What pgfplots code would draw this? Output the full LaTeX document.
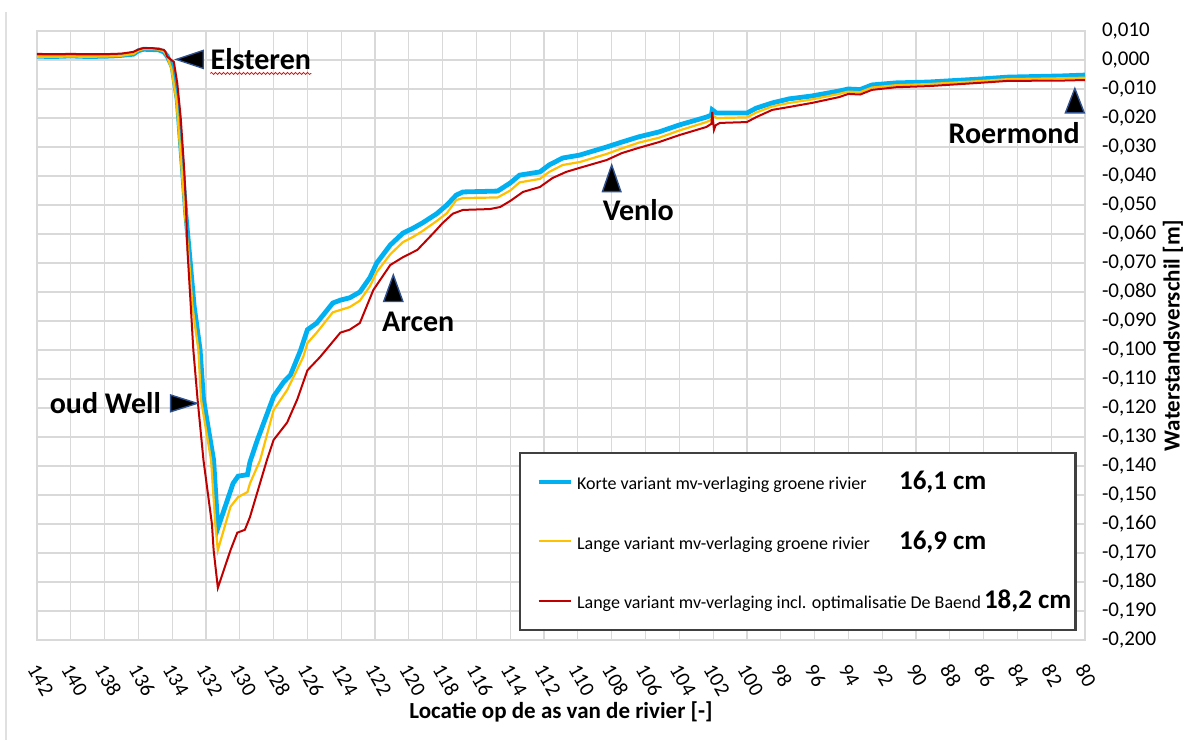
\documentclass[border=0pt]{standalone}
\usepackage{pgfplots}
\pgfplotsset{compat=1.18}
\usepackage{fontspec}
\setmainfont{Carlito}
\usetikzlibrary{decorations.pathmorphing}
\definecolor{kblue}{RGB}{0,176,240}
\definecolor{lyellow}{RGB}{255,192,0}
\definecolor{lred}{RGB}{192,0,0}
\definecolor{triedge}{RGB}{47,82,143}
\begin{document}
\begin{tikzpicture}
\useasboundingbox (-18.5pt,-50pt) rectangle (582pt,320pt);
\draw[black!12, line width=0.6pt] (-15.5pt,-50pt) -- (-15.5pt,314pt);
\begin{axis}[
  at={(0,0)}, anchor=south west,
  scale only axis, width=524pt, height=304.5pt,
  x dir=reverse, xmin=80, xmax=142,
  ymin=-0.2, ymax=0.01,
  xtick={80,82,...,142},
  ytick={-0.2,-0.19,-0.18,-0.17,-0.16,-0.15,-0.14,-0.13,-0.12,-0.11,-0.1,-0.09,-0.08,-0.07,-0.06,-0.05,-0.04,-0.03,-0.02,-0.01,0,0.01},
  yticklabel pos=right,
  grid=major,
  major grid style={draw=black!15, line width=0.6pt},
  axis line style={draw=black!15, line width=0.6pt},
  major tick length=0pt,
  clip=false,
  /pgf/number format/assume math mode=true,
  tick label style={font=\fontsize{10.5}{12}\selectfont},
  yticklabel style={anchor=west, xshift=5pt, /pgf/number format/.cd, fixed, fixed zerofill, precision=3, use comma},
  xticklabel style={xshift=-2.25pt, yshift=-13pt, rotate=-60, anchor=west, inner sep=0pt, /pgf/number format/.cd, fixed, precision=0},
  xlabel={Locatie op de as van de rivier [-]},
  xlabel style={font=\bfseries\fontsize{11.5}{13}\selectfont, at={(axis description cs:0.5,0)}, anchor=center, yshift=-36pt},
  legend image code/.code={\draw[#1] (0pt,0pt) -- (16pt,0pt);},
  legend cell align=left,
  legend style={at={(axis description cs:0.46,0.3087)}, anchor=north west,
    draw=black!75, line width=1.2pt, fill=white,
    font=\fontsize{9}{11}\selectfont, row sep=15pt, inner xsep=8pt, inner ysep=7pt},
]
\addplot[kblue, line width=2.4pt] coordinates {
(142,0.0013) (141,0.0012) (140,0.0014) (139,0.0012) (138,0.0013) (137.5,0.0014) (137,0.0016) (136.3,0.0020) (136.0,0.0032) (135.7,0.0037) (135.2,0.0036) (134.8,0.0035) (134.5,0.0028) (134.3,0.0014) (134.0,-0.0024) (133.7,-0.0138) (133.4,-0.0369) (133.2,-0.0528) (133.0,-0.0655) (132.7,-0.085) (132.35,-0.100) (132.15,-0.117) (131.55,-0.138) (131.3,-0.1614) (130.4,-0.146) (130.1,-0.1435) (129.55,-0.143) (129.4,-0.1386) (128.96,-0.131) (128.0,-0.116) (127.4,-0.111) (127.0,-0.1086) (126.4,-0.100) (126.0,-0.093) (125.45,-0.0907) (124.5,-0.0838) (124.05,-0.0828) (123.5,-0.082) (122.9,-0.080) (122.3,-0.075) (121.9,-0.070) (121.1,-0.0638) (120.35,-0.0597) (119.75,-0.058) (119.2,-0.0562) (118.35,-0.053) (117.75,-0.050) (117.2,-0.0466) (116.8,-0.0455) (114.75,-0.0452) (114.0,-0.0424) (113.45,-0.0397) (112.25,-0.0386) (111.7,-0.0362) (110.9,-0.0338) (109.9,-0.0328) (108.3,-0.0300) (107.4,-0.0283) (106.4,-0.0265) (105.2,-0.0248) (104.0,-0.0224) (102.4,-0.0197) (102.1,-0.0190) (102.05,-0.0172) (101.8,-0.0183) (100.0,-0.0183) (99.45,-0.0166) (98.5,-0.0148) (97.5,-0.0134) (96.15,-0.0124) (94.55,-0.0107) (94.0,-0.0100) (93.3,-0.0102) (92.6,-0.0086) (91.2,-0.0079) (89.25,-0.0076) (86.3,-0.0066) (84.55,-0.0059) (81.4,-0.0055) (80.0,-0.0052)
};
\addlegendentry{\makebox[161pt][l]{Korte variant mv-verlaging groene rivier}\textbf{\fontsize{13.5}{13.5}\selectfont 16,1 cm}}
\addplot[lyellow, line width=1.1pt] coordinates {
(142,0.0011) (141,0.0011) (140,0.0012) (139,0.0011) (138,0.0012) (137.5,0.0013) (137,0.0015) (136.3,0.0021) (136.0,0.0033) (135.7,0.0038) (135.2,0.0038) (134.8,0.0036) (134.5,0.0030) (134.3,0.0012) (134.05,-0.0030) (133.75,-0.0140) (133.45,-0.0370) (133.25,-0.0530) (133.05,-0.0655) (132.8,-0.085) (132.45,-0.100) (132.3,-0.117) (131.7,-0.138) (131.45,-0.160) (131.3,-0.169) (130.55,-0.154) (130.1,-0.1507) (129.55,-0.149) (129.4,-0.146) (128.8,-0.138) (128.0,-0.1207) (127.2,-0.1138) (126.25,-0.1024) (126.0,-0.0976) (125.45,-0.094) (124.5,-0.087) (123.5,-0.0852) (122.9,-0.083) (122.3,-0.078) (121.9,-0.0731) (121.1,-0.067) (120.35,-0.0628) (119.75,-0.061) (119.2,-0.059) (118.35,-0.0555) (117.75,-0.0528) (117.2,-0.0483) (116.8,-0.0476) (114.75,-0.0474) (114.0,-0.0450) (113.45,-0.0422) (112.25,-0.0410) (111.7,-0.0386) (110.9,-0.0362) (109.9,-0.0352) (108.3,-0.0324) (107.4,-0.0305) (106.4,-0.0285) (105.2,-0.0268) (104.0,-0.0243) (102.4,-0.0214) (102.1,-0.0206) (102.05,-0.0190) (101.8,-0.0200) (100.0,-0.0198) (99.45,-0.0181) (98.5,-0.0160) (97.5,-0.0148) (96.15,-0.0136) (94.55,-0.0117) (94.0,-0.0109) (93.3,-0.0111) (92.6,-0.0095) (91.2,-0.0087) (89.25,-0.0083) (86.3,-0.0073) (84.55,-0.0066) (81.4,-0.0063) (80.0,-0.0061)
};
\addlegendentry{\makebox[161pt][l]{Lange variant mv-verlaging groene rivier}\textbf{\fontsize{13.5}{13.5}\selectfont 16,9 cm}}
\addplot[lred, line width=1pt] coordinates {
(142,0.0021) (141,0.0020) (140,0.0021) (139,0.0020) (138,0.0020) (137.5,0.0021) (137,0.0022) (136.3,0.0028) (136.0,0.0036) (135.7,0.0041) (135.2,0.0041) (134.8,0.0038) (134.5,0.0035) (134.4,0.0028) (134.3,0.0012) (133.9,-0.0007) (133.7,-0.008) (133.5,-0.0197) (133.3,-0.0369) (133.2,-0.0483) (133.1,-0.0655) (132.9,-0.085) (132.75,-0.100) (132.5,-0.117) (132.15,-0.138) (131.65,-0.160) (131.55,-0.169) (131.3,-0.182) (130.55,-0.169) (130.15,-0.163) (129.7,-0.162) (129.4,-0.1576) (128.4,-0.138) (128.0,-0.131) (127.2,-0.125) (126.6,-0.117) (126.0,-0.107) (125.25,-0.1024) (124.05,-0.094) (123.5,-0.093) (122.9,-0.0907) (122.1,-0.0793) (121.1,-0.0707) (120.35,-0.068) (119.5,-0.0655) (118.55,-0.0597) (118.0,-0.0562) (117.4,-0.053) (116.8,-0.0517) (115.2,-0.0514) (114.6,-0.0507) (114.0,-0.0486) (113.25,-0.0455) (112.25,-0.0438) (111.5,-0.0407) (110.7,-0.0386) (109.9,-0.0372) (108.3,-0.0345) (107.4,-0.0321) (106.4,-0.0303) (105.2,-0.0283) (104.0,-0.0259) (102.4,-0.0231) (102.1,-0.0220) (102.05,-0.0179) (101.95,-0.0241) (101.85,-0.0225) (101.6,-0.0217) (100.0,-0.0214) (99.45,-0.0197) (98.5,-0.0172) (97.5,-0.0162) (96.15,-0.0148) (94.55,-0.0128) (94.0,-0.0117) (93.3,-0.0119) (92.6,-0.0103) (91.2,-0.0094) (89.25,-0.0090) (86.3,-0.0079) (84.55,-0.0072) (81.4,-0.0071) (80.0,-0.0069)
};
\addlegendentry{Lange variant mv-verlaging incl. optimalisatie De Baend\,\textbf{\fontsize{13.5}{13.5}\selectfont 18,2 cm}\hspace*{-8pt}}

% annotations
\filldraw[fill=black, draw=triedge, line width=0.7pt] (axis cs:133.76,0.0002) -- ++(13.5pt,4.5pt) -- ++(0pt,-9pt) -- cycle;
\node[anchor=west, inner sep=0pt, font=\bfseries\fontsize{15}{15}\selectfont] (els) at ([xshift=17pt]axis cs:133.76,0.0002) {Elsteren};
\draw[red, line width=0.4pt, decorate, decoration={snake, amplitude=0.5pt, segment length=2pt}] ([yshift=-1.5pt]els.south west) -- ([yshift=-1.5pt]els.south east);
\filldraw[fill=black, draw=triedge, line width=0.7pt] (axis cs:132.52,-0.1184) -- ++(-13.3pt,4.2pt) -- ++(0pt,-8.4pt) -- cycle;
\node[anchor=east, inner sep=0pt, font=\bfseries\fontsize{15}{15}\selectfont] at ([xshift=-18pt]axis cs:132.52,-0.1184) {oud Well};
\filldraw[fill=black, draw=triedge, line width=0.7pt] (axis cs:120.92,-0.0741) -- ++(-4.8pt,-13.3pt) -- ++(9.6pt,0pt) -- cycle;
\node[anchor=west, inner sep=0pt, font=\bfseries\fontsize{15}{15}\selectfont] at ([xshift=-5.8pt, yshift=-23.5pt]axis cs:120.92,-0.0741) {Arcen};
\filldraw[fill=black, draw=triedge, line width=0.7pt] (axis cs:108.0,-0.0362) -- ++(-4.6pt,-13.3pt) -- ++(9.2pt,0pt) -- cycle;
\node[anchor=west, inner sep=0pt, font=\bfseries\fontsize{15}{15}\selectfont] at ([xshift=-4.6pt, yshift=-22.5pt]axis cs:108.0,-0.0362) {Venlo};
\filldraw[fill=black, draw=triedge, line width=0.7pt] (axis cs:80.6,-0.0098) -- ++(-4.7pt,-12.2pt) -- ++(9.4pt,0pt) -- cycle;
\node[anchor=east, inner sep=0pt, font=\bfseries\fontsize{15}{15}\selectfont] at ([xshift=2.6pt, yshift=-22.4pt]axis cs:80.6,-0.0098) {Roermond};
\node[rotate=90, font=\bfseries\fontsize{11.5}{13}\selectfont] at ([xshift=44pt]axis description cs:1,0.5) {Waterstandsverschil [m]};
\end{axis}
\end{tikzpicture}
\end{document}
